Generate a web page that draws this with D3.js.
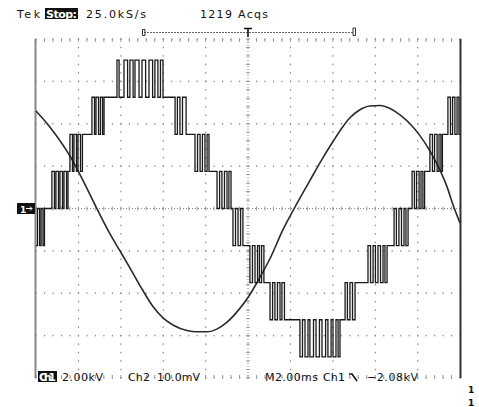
<!DOCTYPE html>
<html><head><meta charset="utf-8">
<script src="https://cdn.jsdelivr.net/npm/d3@7"></script>
<style>
body{margin:0;background:#fff}
svg{display:block}
text{font-family:"DejaVu Sans",sans-serif;fill:#111}
</style>
</head><body>
<svg id="c" width="479" height="407"></svg>
<script>
// ---- data ----
// Ch2 trace: time in ms, value in mV
const sineTime=[0,0.66,1.60,2.22,2.83,3.49,3.96,4.43,5.00,5.50,5.99,6.50,7.12,7.60,8.07,8.55,8.97,9.48,10.0,10.50,11.04,11.65,12.31,12.92,13.49,14.01,14.43,14.81,15.28,15.75,16.23,16.70,17.17,17.64,18.11,18.58,19.06,19.39,19.67,20.0];
const sineMV=[23.0,19.2,12.4,6.6,0.4,-6.0,-10.0,-14.0,-19.0,-23.0,-25.8,-27.6,-28.8,-29.1,-29.1,-28.4,-27.0,-24.4,-21.0,-16.8,-11.8,-5.0,1.2,6.6,11.6,15.8,19.0,21.4,23.3,24.2,24.3,23.6,22.1,20.0,17.2,13.6,9.0,5.1,0.9,-3.4];
// Ch1 staircase: switching instants (ms) and level after each instant (kV)
const stairTime=[0,0.07,0.17,0.24,0.33,0.40,
0.75,0.87,0.94,1.06,1.13,1.25,1.32,1.44,1.51,
1.60,1.72,1.79,1.91,1.98,2.10,2.19,
2.64,2.76,2.83,2.95,3.04,3.14,3.21,
3.82,3.92,4.15,4.32,4.43,4.58,4.67,4.86,5.00,5.17,5.33,5.50,5.61,5.75,5.87,5.99,
6.56,6.67,6.79,6.91,7.08,
7.50,7.62,7.74,7.85,7.97,8.07,8.16,
8.54,8.66,8.77,8.89,9.01,9.10,9.20,
9.29,9.41,9.53,9.65,9.76,
10.09,10.21,10.33,10.45,10.54,10.64,10.75,
11.04,11.16,11.27,11.39,11.51,11.60,11.72,
12.45,12.57,12.69,12.83,12.92,13.09,13.21,13.37,13.49,13.66,13.77,13.92,14.01,14.15,14.25,14.34,
14.58,14.69,14.81,14.93,15.05,
15.66,15.78,15.90,16.01,16.13,16.25,16.37,16.46,16.56,
16.89,17.00,17.12,17.24,17.36,17.45,17.55,
17.74,17.85,17.95,18.07,18.16,18.25,18.33,
18.58,18.70,18.80,18.92,19.01,19.10,19.17,
19.43,19.55,19.65,19.76,19.86,19.95,20.0];
const stairKV=[-1.75,0,-1.75,0,-1.75,0,
1.75,0,1.75,0,1.75,0,1.75,0,1.75,
3.5,1.75,3.5,1.75,3.5,1.75,3.5,
5.25,3.5,5.25,3.5,5.25,3.5,5.25,
7,5.25,7,5.25,7,5.25,7,5.25,7,5.25,7,5.25,7,5.25,7,5.25,
3.5,5.25,3.5,5.25,3.5,
1.75,3.5,1.75,3.5,1.75,3.5,1.75,
0,1.75,0,1.75,0,1.75,0,
-1.75,0,-1.75,0,-1.75,
-3.5,-1.75,-3.5,-1.75,-3.5,-1.75,-3.5,
-5.25,-3.5,-5.25,-3.5,-5.25,-3.5,-5.25,
-7,-5.25,-7,-5.25,-7,-5.25,-7,-5.25,-7,-5.25,-7,-5.25,-7,-5.25,-7,-5.25,
-3.5,-5.25,-3.5,-5.25,-3.5,
-1.75,-3.5,-1.75,-3.5,-1.75,-3.5,-1.75,-3.5,-1.75,
0,-1.75,0,-1.75,0,-1.75,0,
1.75,0,1.75,0,1.75,0,1.75,
3.5,1.75,3.5,1.75,3.5,1.75,3.5,
5.25,3.5,5.25,3.5,5.25,3.5,3.5];
const timeDomain=[0,20];      // 10 div x 2.00 ms
const ch1Domain=[-8,8];        // 8 div x 2.00 kV
const ch2Domain=[-40,40];      // 8 div x 10.0 mV
const topLabels=["Tek","Stop:","25.0kS/s","1219 Acqs"];
const bottomLabels=["Ch1","2.00kV","Ch2","10.0mV","M2.00ms","Ch1","\u22122.08kV"];

// ---- scales ----
const svg=d3.select("#c");
const L=36,R=460,T=39,B=378;
const x=d3.scaleLinear(timeDomain,[L,R]);
const y1=d3.scaleLinear(ch1Domain,[B,T]);
const y2=d3.scaleLinear(ch2Domain,[B,T]);

// ---- graticule ----
const g=svg.append("g");
const majorT=x.ticks(10), majorV=y1.ticks(8);
const minorT=d3.range(0,20.0001,0.4), minorV=d3.range(-8,8.0001,0.4);
majorT.forEach(t=>{
  if(t===0||t===20||t===10) return;
  minorV.forEach(v=>g.append("rect").attr("x",x(t)-0.5).attr("y",y1(v)-0.75).attr("width",1.2).attr("height",1.5).attr("fill","#8a8a8a"));
});
majorV.forEach(v=>{
  if(v===0) return;
  minorT.forEach(t=>g.append("rect").attr("x",x(t)-0.5).attr("y",y1(v)-0.75).attr("width",1.2).attr("height",1.5).attr("fill","#8a8a8a"));
});
g.append("line").attr("x1",x(10)).attr("x2",x(10)).attr("y1",T).attr("y2",B).attr("stroke","#888").attr("stroke-width",1).attr("stroke-dasharray","1,2");
g.append("line").attr("x1",L).attr("x2",R).attr("y1",y1(0)).attr("y2",y1(0)).attr("stroke","#888").attr("stroke-width",1).attr("stroke-dasharray","1,2");
minorV.forEach(v=>g.append("line").attr("x1",x(10)-2).attr("x2",x(10)+2).attr("y1",y1(v)).attr("y2",y1(v)).attr("stroke","#999"));
minorT.forEach(t=>g.append("line").attr("x1",x(t)).attr("x2",x(t)).attr("y1",y1(0)-2).attr("y2",y1(0)+2).attr("stroke","#999"));
minorT.forEach(t=>{
  g.append("line").attr("x1",x(t)).attr("x2",x(t)).attr("y1",T).attr("y2",T+3).attr("stroke","#999");
  g.append("line").attr("x1",x(t)).attr("x2",x(t)).attr("y1",B-3).attr("y2",B).attr("stroke","#999");
});
g.append("line").attr("x1",L-0.5).attr("x2",L-0.5).attr("y1",T).attr("y2",B).attr("stroke","#888").attr("stroke-width",2);
g.append("line").attr("x1",R+0.5).attr("x2",R+0.5).attr("y1",T).attr("y2",B).attr("stroke","#333").attr("stroke-width",2);

// ---- traces ----
const sineData=sineTime.map((t,i)=>[t,sineMV[i]]);
svg.append("path").datum(sineData)
  .attr("d",d3.line().x(d=>x(d[0])).y(d=>y2(d[1])).curve(d3.curveMonotoneX))
  .attr("fill","none").attr("stroke","#2a2a2a").attr("stroke-width",1.6);
const stairData=stairTime.map((t,i)=>[t,stairKV[i]]);
svg.append("path").datum(stairData)
  .attr("d",d3.line().x(d=>x(d[0])).y(d=>y1(d[1])).curve(d3.curveStepAfter))
  .attr("fill","none").attr("stroke","#1a1a1a").attr("stroke-width",1.3);

// ---- top status line ----
svg.append("text").attr("x",17).attr("y",18).attr("font-size",11).attr("textLength",23).text(topLabels[0]);
svg.append("rect").attr("x",45).attr("y",8).attr("width",33).attr("height",11).attr("fill","#111");
svg.append("text").attr("x",46).attr("y",18).attr("font-size",11).attr("font-weight","bold").attr("textLength",31).style("fill","#fff").text(topLabels[1]);
svg.append("text").attr("x",86).attr("y",18).attr("font-size",11).attr("textLength",60).text(topLabels[2]);
svg.append("text").attr("x",200).attr("y",18).attr("font-size",11).attr("textLength",68).text(topLabels[3]);
svg.append("line").attr("x1",144).attr("x2",354).attr("y1",32.5).attr("y2",32.5).attr("stroke","#666").attr("stroke-dasharray","2,1");
svg.append("path").attr("d","M145,29.5V35.5H142.5V29.5H145").attr("fill","none").attr("stroke","#333");
svg.append("path").attr("d","M353,28V35.5H355.5V28H353").attr("fill","none").attr("stroke","#333");
svg.append("path").attr("d",`M${x(10)-4},28.5H${x(10)+4}M${x(10)},28.5V37`).attr("stroke","#111").attr("stroke-width",1.6);

// ---- ground marker ----
svg.append("rect").attr("x",17).attr("y",203).attr("width",18).attr("height",11).attr("fill","#111");
svg.append("text").attr("x",20).attr("y",212.5).attr("font-size",9).attr("font-weight","bold").style("fill","#fff").text("1");
svg.append("path").attr("d","M26,208.5H32M30,206.5L32,208.5L30,210.5").attr("stroke","#fff").attr("fill","none");

// ---- bottom status line ----
svg.append("rect").attr("x",38).attr("y",371).attr("width",19).attr("height",11).attr("fill","#111");
svg.append("text").attr("x",39).attr("y",381).attr("font-size",11).attr("font-weight","bold").attr("textLength",17).style("fill","#fff").text(bottomLabels[0]);
svg.append("text").attr("x",62).attr("y",381).attr("font-size",11).attr("textLength",41).text(bottomLabels[1]);
svg.append("text").attr("x",128).attr("y",381).attr("font-size",11).attr("textLength",22).text(bottomLabels[2]);
svg.append("text").attr("x",157).attr("y",381).attr("font-size",11).attr("textLength",43).text(bottomLabels[3]);
svg.append("text").attr("x",265).attr("y",381).attr("font-size",11).attr("textLength",53).text(bottomLabels[4]);
svg.append("text").attr("x",323).attr("y",381).attr("font-size",11).attr("textLength",22).text(bottomLabels[5]);
svg.append("path").attr("d","M349,374H352L357,381").attr("stroke","#111").attr("stroke-width",1.6).attr("fill","none");
svg.append("text").attr("x",367).attr("y",381).attr("font-size",11).attr("textLength",51).text(bottomLabels[6]);
svg.append("text").attr("x",468).attr("y",393).attr("font-size",9).attr("font-weight","bold").text("1");
svg.append("text").attr("x",468).attr("y",406).attr("font-size",9).attr("font-weight","bold").text("1");
</script>
</body></html>
